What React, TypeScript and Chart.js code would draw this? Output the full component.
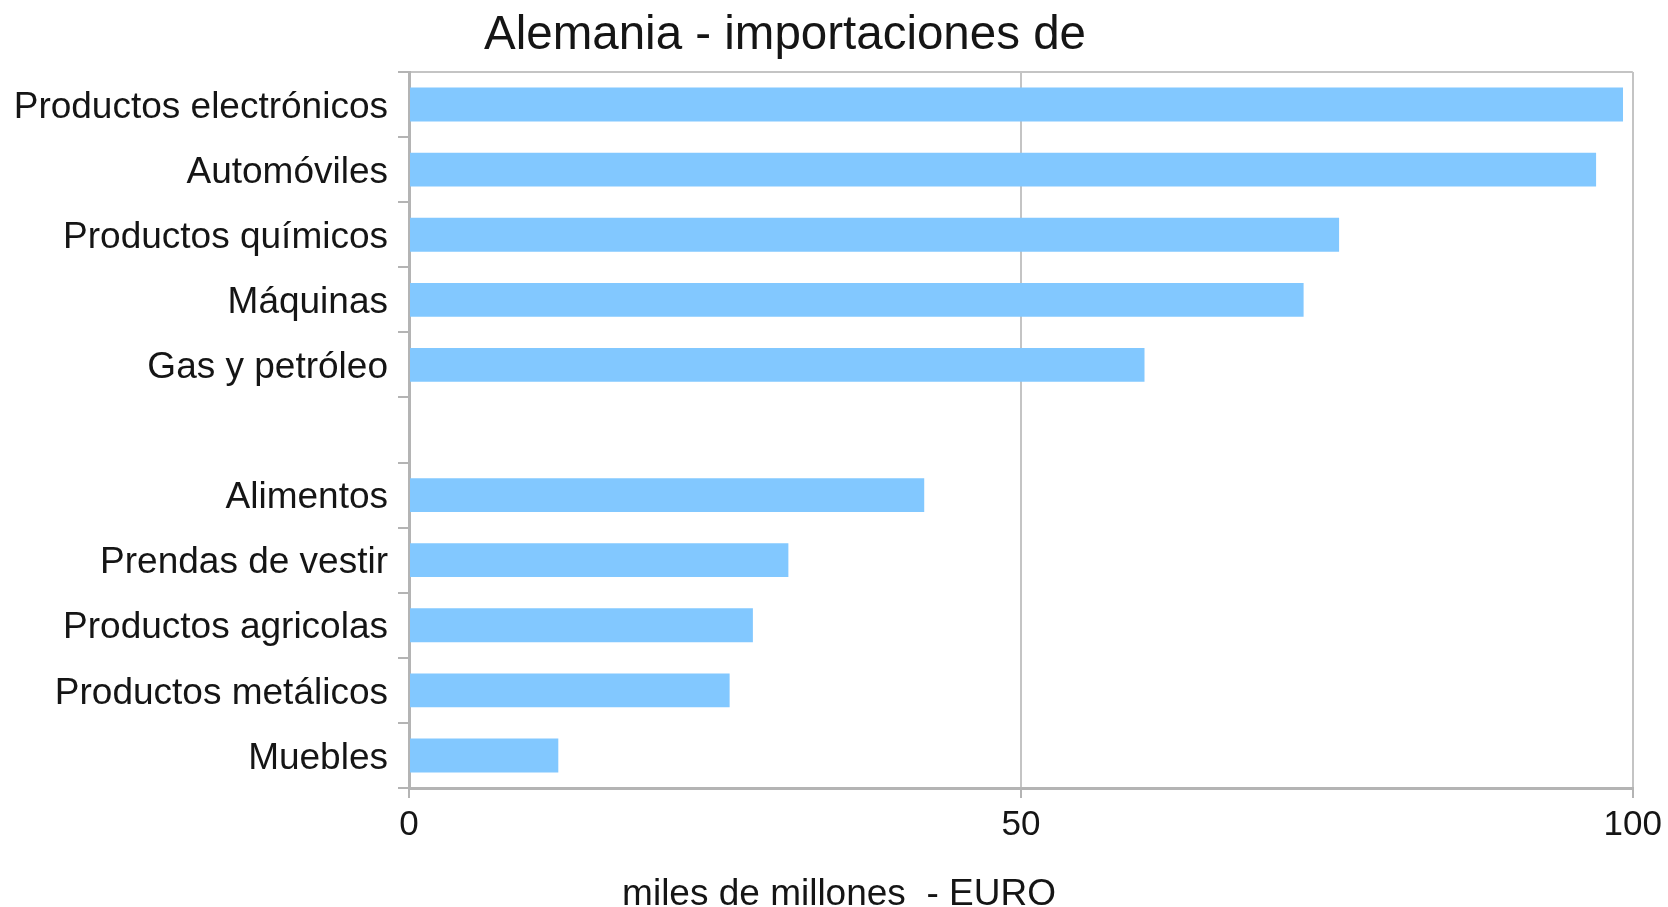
import { useEffect, useRef } from "react";
import { Chart, registerables } from "chart.js";

Chart.register(...registerables);

const TITLE = "Alemania - importaciones de";
const X_AXIS_TITLE = "miles de millones  - EURO";
const CATEGORIES = [
  "Productos electrónicos",
  "Automóviles",
  "Productos químicos",
  "Máquinas",
  "Gas y petróleo",
  "",
  "Alimentos",
  "Prendas de vestir",
  "Productos agricolas",
  "Productos metálicos",
  "Muebles",
];
const VALUES: (number | null)[] = [99.2, 97.0, 76.0, 73.1, 60.1, null, 42.1, 31.0, 28.1, 26.2, 12.2];
const X_TICKS = [0, 50, 100];

const FONT = '"Liberation Sans", Arial, Helvetica, sans-serif';
const AXIS = "#b4b4b4";
const GRID = "#c4c4c4";
const TEXT = "#151515";
const BAR = "#82c8ff";

const titlesPlugin = {
  id: "textTitles",
  afterDraw(chart: any) {
    const { ctx } = chart;
    ctx.save();
    ctx.fillStyle = TEXT;
    ctx.textAlign = "center";
    ctx.textBaseline = "middle";
    ctx.font = `47.5px ${FONT}`;
    ctx.fillText(TITLE, 785, 36);
    ctx.font = `37px ${FONT}`;
    ctx.fillText(X_AXIS_TITLE, 839, 895);
    ctx.restore();
  },
};

export default function App() {
  const ref = useRef<HTMLCanvasElement | null>(null);

  useEffect(() => {
    if (!ref.current) return;
    const chart = new Chart(ref.current, {
      type: "bar",
      data: {
        labels: CATEGORIES,
        datasets: [
          {
            data: VALUES,
            backgroundColor: BAR,
            borderWidth: 0,
            barPercentage: 0.52,
            categoryPercentage: 1.0,
          },
        ],
      },
      options: {
        indexAxis: "y",
        animation: false,
        responsive: true,
        maintainAspectRatio: false,
        layout: { padding: { top: 72, left: 0, right: 35, bottom: 0 } },
        plugins: {
          legend: { display: false },
          tooltip: { enabled: false },
          title: { display: false },
        },
        scales: {
          x: {
            type: "linear",
            min: 0,
            max: 100,
            afterBuildTicks: (s: any) => {
              s.ticks = X_TICKS.map((v) => ({ value: v }));
            },
            grid: {
              color: GRID,
              lineWidth: 2,
              tickLength: 10,
              tickColor: AXIS,
              tickWidth: 2,
            },
            border: { display: true, color: AXIS, width: 3 },
            ticks: {
              color: TEXT,
              font: { family: FONT, size: 35 },
              padding: 6,
              maxRotation: 0,
            },
            afterFit: (s: any) => {
              s.height = 119;
            },
          },
          y: {
            type: "category",
            offset: true,
            grid: {
              offset: true,
              drawOnChartArea: true,
              color: (c: any) => (c.index === 0 ? GRID : "rgba(0,0,0,0)"),
              lineWidth: 2,
              tickLength: 11,
              tickColor: AXIS,
              tickWidth: 2,
            },
            border: { display: true, color: AXIS, width: 3 },
            ticks: {
              color: TEXT,
              font: { family: FONT, size: 37 },
              padding: 10,
              labelOffset: 3,
              autoSkip: false,
            },
            afterFit: (s: any) => {
              s.width = 409;
            },
          },
        },
      },
      plugins: [titlesPlugin],
    });
    return () => chart.destroy();
  }, []);

  return (
    <div style={{ position: "fixed", left: 0, top: 0, width: 1668, height: 907, background: "#fff" }}>
      <canvas ref={ref} />
    </div>
  );
}
